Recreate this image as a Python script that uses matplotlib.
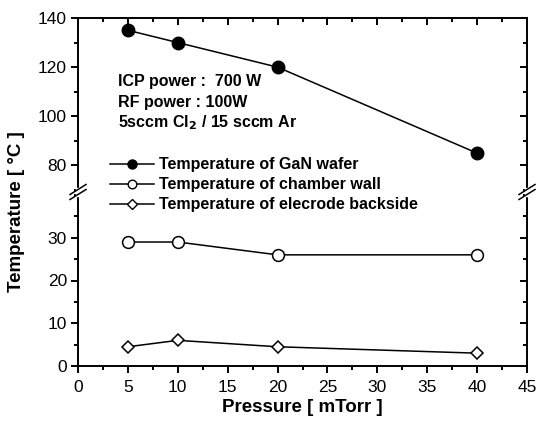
import matplotlib
matplotlib.use("Agg")
import matplotlib.pyplot as plt
from matplotlib.lines import Line2D
from matplotlib.ticker import MultipleLocator

plt.rcParams['font.family'] = ['Liberation Sans', 'DejaVu Sans']

pressure = [5, 10, 20, 40]
gan_wafer = [135, 130, 120, 85]
chamber_wall = [29, 29, 26, 26]
electrode = [4.5, 6, 4.5, 3]
labels = ["Temperature of GaN wafer", "Temperature of chamber wall",
          "Temperature of elecrode backside"]
notes = ["ICP power :  700 W", "RF power : 100W", "5sccm Cl$_\\mathbf{2}$ / 15 sccm Ar"]

W, H = 537, 425
fig = plt.figure(figsize=(W / 100, H / 100), dpi=100)

def fx(px):
    return px / W

def fy(py):
    return 1 - py / H

left, right = 78, 527
ax_top = fig.add_axes([fx(left), fy(190), fx(right) - fx(left), fy(18) - fy(190)])
ax_bot = fig.add_axes([fx(left), fy(366), fx(right) - fx(left), fy(195) - fy(366)])

lw = 1.4
for ax in (ax_top, ax_bot):
    for s in ax.spines.values():
        s.set_linewidth(lw)
    ax.set_xlim(0, 45)
    ax.xaxis.set_major_locator(MultipleLocator(5))
    ax.xaxis.set_minor_locator(MultipleLocator(2.5))

ax_top.spines['bottom'].set_visible(False)
ax_bot.spines['top'].set_visible(False)

ax_top.set_ylim(70, 140)
ax_top.yaxis.set_minor_locator(MultipleLocator(10))
ax_top.set_yticks([80, 100, 120, 140])
ax_bot.set_ylim(0, 40)
ax_bot.yaxis.set_minor_locator(MultipleLocator(5))
ax_bot.set_yticks([0, 10, 20, 30])

ax_top.tick_params(axis='x', which='both', bottom=False, labelbottom=False,
                   top=True, direction='in')
ax_top.tick_params(axis='x', which='major', length=5, width=lw)
ax_top.tick_params(axis='x', which='minor', length=3, width=lw)
ax_bot.tick_params(axis='x', which='both', top=False, bottom=True, direction='out')
ax_bot.tick_params(axis='x', which='major', length=5, width=lw, labelsize=12.5, pad=5)
ax_bot.tick_params(axis='x', which='minor', length=3, width=lw)
for ax in (ax_top, ax_bot):
    ax.tick_params(axis='y', which='both', left=True, right=False, direction='out')
    ax.tick_params(axis='y', which='major', length=5, width=lw, labelsize=12.5, pad=3)
    ax.tick_params(axis='y', which='minor', length=3, width=lw)
    sec = ax.secondary_yaxis('right')
    sec.set_yticks(ax.get_yticks())
    sec.yaxis.set_minor_locator(ax.yaxis.get_minor_locator())
    sec.tick_params(axis='y', which='both', direction='in', labelright=False, width=lw)
    sec.tick_params(axis='y', which='major', length=5)
    sec.tick_params(axis='y', which='minor', length=3)
    sec.spines['right'].set_visible(False)

ax_top.plot(pressure, gan_wafer, color='black', lw=1.1, marker='o', ms=9,
            mfc='black', mec='black', zorder=3)
ax_bot.plot(pressure, chamber_wall, color='black', lw=1.1, marker='o', ms=8.5,
            mfc='white', mec='black', mew=1.1, zorder=3)
ax_bot.plot(pressure, electrode, color='black', lw=1.1, marker='D', ms=6.3,
            mfc='white', mec='black', mew=1.1, zorder=3)

# break marks
for xb in (left, right):
    fig.patches.append(plt.Rectangle((fx(xb) - 0.004, fy(196)), 0.008, fy(188) - fy(196),
                                     transform=fig.transFigure, color='white', zorder=5))
    for dy in (-2.5, 2.5):
        fig.lines.append(Line2D([fx(xb - 8), fx(xb + 8)], [fy(192 + dy + 5), fy(192 + dy - 5)],
                                transform=fig.transFigure, color='black', lw=1.1, zorder=6))

# annotations
for note, base in zip(notes, [86, 107, 127]):
    fig.text(fx(118), fy(base), note, ha='left', va='baseline', fontsize=11.5,
             fontweight='bold')

handles = [
    Line2D([], [], color='black', lw=1.1, marker='o', ms=6.5, mfc='black', mec='black'),
    Line2D([], [], color='black', lw=1.1, marker='o', ms=6.2, mfc='white', mec='black', mew=1.0),
    Line2D([], [], color='black', lw=1.1, marker='D', ms=4.6, mfc='white', mec='black', mew=1.0),
]
fig.legend(handles, labels, loc='upper left', bbox_to_anchor=(fx(96), fy(143)),
           bbox_transform=fig.transFigure, frameon=False, handlelength=2.7,
           handletextpad=0.375, labelspacing=0.31,
           prop={'weight': 'bold', 'size': 11.5})

fig.text(fx(17), fy(212), "Temperature [ °C ]", rotation=90, ha='center', va='center',
         fontsize=13.5, fontweight='bold')
fig.text(fx(302), fy(408), "Pressure [ mTorr ]", ha='center', va='center',
         fontsize=13.5, fontweight='bold')

fig.savefig("out.png", dpi=100)
